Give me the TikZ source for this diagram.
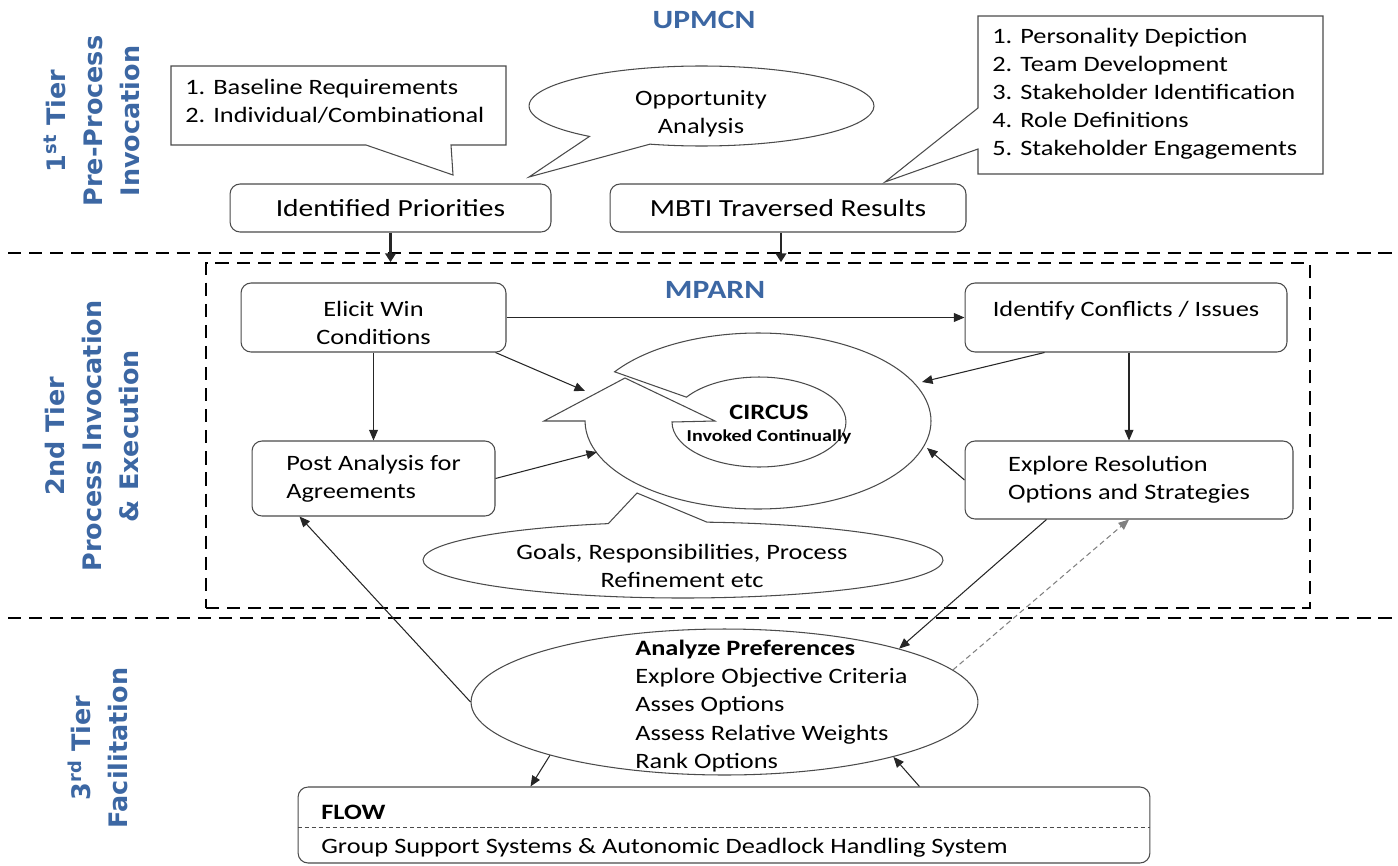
\documentclass[tikz,border=0pt]{standalone}
\usepackage{fontspec}
\setmainfont{Carlito}[FakeStretch=1.2]
\newfontfamily\tierfont{DejaVu Sans}
\usetikzlibrary{arrows.meta,shapes.geometric,positioning}
\definecolor{tierblue}{RGB}{60,103,163}
\definecolor{edge}{RGB}{75,75,75}
\tikzset{
    box/.style={draw=edge,line width=0.6pt,rounded corners=0.2cm,fill=white,inner sep=0pt},
    bubble/.style={draw=edge,line width=0.6pt,fill=white},
    txt/.style={inner sep=0pt,font=\fontsize{12.5}{16}\selectfont},
    link/.style={draw=black!85,line width=0.6pt,-{Triangle[length=6pt,width=5pt]}},
    feed/.style={link,line width=1.6pt,-{Triangle[length=5pt,width=6pt]}},
    tierline/.style={line width=1.2pt,dash pattern=on 7.5pt off 4.5pt},
    tier/.style={rotate=90,align=center,text=tierblue,
        font=\tierfont\bfseries\fontsize{14.5}{21}\selectfont},
    head/.style={text=tierblue,font=\bfseries\fontsize{15}{18}\selectfont},
}
\newcommand\TierBreak[1]{%
    \draw[tierline] (8,#1) -- (1392,#1);
}
\newcommand\lowstrut{\rule{0pt}{0.53cm}}

\begin{document}
\begin{tikzpicture}[x=0.02cm,y=-0.02cm]
    \useasboundingbox (0,0) rectangle (1398,865);
    \node[tier] (tier1) at (92,121) {1\textsuperscript{st} Tier\\Pre-Process\\Invocation};
    \node[tier] (tier2) at (92,436) {2nd Tier\\Process  Invocation\\\& Execution};
    \node[tier] (tier3) at (98,748) {3\textsuperscript{rd} Tier\\Facilitation};
    \TierBreak{253}
    \TierBreak{618}
    \node[draw,line width=1pt,dash pattern=on 7.5pt off 4.5pt,minimum width=22.08cm,
        minimum height=6.9cm,inner sep=0pt] (mparnbox) at (758,435.5) {};

    % UPMCN
    \node[head] (upmcn) at (704,20) {UPMCN};
    \node[box,font=\fontsize{14}{17}\selectfont,minimum width=6.42cm,minimum height=0.96cm]
        (ip) at (390.5,208) {Identified Priorities};
    \node[box,font=\fontsize{14}{17}\selectfont,minimum width=7.12cm,minimum height=0.96cm]
        (mbti) at (788,208) {MBTI Traversed Results};
    \draw[bubble] (171,66) -- (506,66) -- (506,145) -- (451,145) -- (453,175)
        -- (366,145) -- (171,145) -- cycle;
    \node[txt,align=left,anchor=west] (needs) at (185,101)
        {1. Baseline Requirements\\2. Individual/Combinational};
    \draw[bubble] (978,16) -- (1323,16) -- (1323,174) -- (978,174) -- (978,149)
        -- (885,182) -- (978,108) -- cycle;
    \node[txt,align=left,anchor=west] (traits) at (992,93.5)
        {1. Personality Depiction\\2. Team  Development\\3. Stakeholder Identification\\
         4. Role Definitions\\5. Stakeholder Engagements};
    \draw[bubble] (701.5,106) ++(-107.4:3.45cm and 0.8cm)
        arc[start angle=-107.4,end angle=229.5,x radius=3.45cm,y radius=0.8cm]
        -- (529,177) -- cycle;
    \node[txt,align=center] (chance) at (701,113.5) {Opportunity\\Analysis};
    \draw[feed] (ip.south) -- (ip.south |- mparnbox.north);
    \draw[feed] ([xshift=-0.14cm]mbti.south) -- ([xshift=-0.14cm]mbti.south |- mparnbox.north);

    % MPARN
    \node[head] (mparn) at (715,290) {MPARN};
    \node[box,txt,minimum width=5.3cm,minimum height=1.38cm,align=center]
        (elicit) at (373.5,317.5) {\lowstrut Elicit Win\\Conditions};
    \node[box,txt,minimum width=6.44cm,minimum height=1.38cm,align=center]
        (conflicts) at (1126,317.5) {\lowstrut Identify Conflicts / Issues\\\mbox{}};
    \node[box,txt,minimum width=4.86cm,minimum height=1.5cm,align=left]
        (post) at (373.5,478.5) {Post Analysis for\\Agreements};
    \node[box,txt,minimum width=6.56cm,minimum height=1.56cm,align=left]
        (explore) at (1129,480) {Explore Resolution\\Options and Strategies};
    \coordinate (circ) at (758,421);
    \draw[bubble] (circ) ++(146:3.46cm and 1.76cm)
        arc[start angle=146,end angle=-180,x radius=3.46cm,y radius=1.76cm]
        -- (544,421) -- (625,378) -- (715,421) -- (672,422)
        arc[start angle=-180,end angle=146.5,x radius=1.74cm,y radius=0.9cm] -- cycle;
    \node[font=\bfseries\fontsize{12.5}{15}\selectfont,inner sep=0pt] (circus) at (769,412) {CIRCUS};
    \node[font=\bfseries\fontsize{9.5}{11}\selectfont,inner sep=0pt] (always) at (769,437) {Invoked Continually};
    \draw[bubble] (683,560) ++(106.7:5.2cm and 0.76cm)
        arc[start angle=106.7,end angle=444.7,x radius=5.2cm,y radius=0.76cm]
        -- (637,493) -- cycle;
    \node[txt,align=center] (goals) at (682,566) {Goals, Responsibilities,  Process\\Refinement etc};
    \coordinate (ringA) at (585,391);
    \coordinate (ringB) at (922,382);
    \coordinate (ringC) at (597,452);
    \coordinate (ringD) at (927,448);
    \draw[link] (elicit) -- (conflicts);
    \draw[link] (elicit) -- (post);
    \draw[link] (explore.north |- conflicts.south) -- (explore.north);
    \draw[link] ([xshift=-0.22cm]elicit.south east) -- (ringA);
    \draw[link] ([xshift=1.6cm]conflicts.south west) -- (ringB);
    \draw[link] (post.east) -- (ringC);
    \draw[link] (explore.west) -- (ringD);

    % facilitation
    \node[bubble,ellipse,minimum width=10.14cm,minimum height=2.92cm,inner sep=0pt]
        (analyze) at (724.5,702) {};
    \node[txt,align=left,anchor=west] (criteria) at (635,706)
        {\textbf{Analyze Preferences}\\Explore Objective Criteria\\Asses Options\\
         Assess Relative Weights\\Rank Options};
    \node[box,minimum width=17.04cm,minimum height=1.52cm] (flow) at (724,825) {};
    \draw[draw=edge,line width=0.5pt,dash pattern=on 2.5pt off 1.5pt]
        ([yshift=-0.04cm]flow.west) -- ([yshift=-0.04cm]flow.east);
    \node[txt,font=\bfseries\fontsize{12.5}{16}\selectfont,anchor=west] (flowname) at (321,812) {FLOW};
    \node[txt,anchor=west] (gss) at (321,848)
        {Group Support Systems \& Autonomic Deadlock Handling System};
    \draw[link] (analyze.west) -- ([xshift=0.96cm]post.south west);
    \draw[link] ([xshift=1.64cm]explore.south west) -- (analyze.17);
    \draw[link,draw=gray,dash pattern=on 3pt off 2pt] (analyze.8) -- (explore.south);
    \draw[link] (analyze.197) -- ([xshift=4.66cm]flow.north west);
    \draw[link] ([xshift=12.44cm]flow.north west) -- (analyze.-18);
\end{tikzpicture}
\end{document}
